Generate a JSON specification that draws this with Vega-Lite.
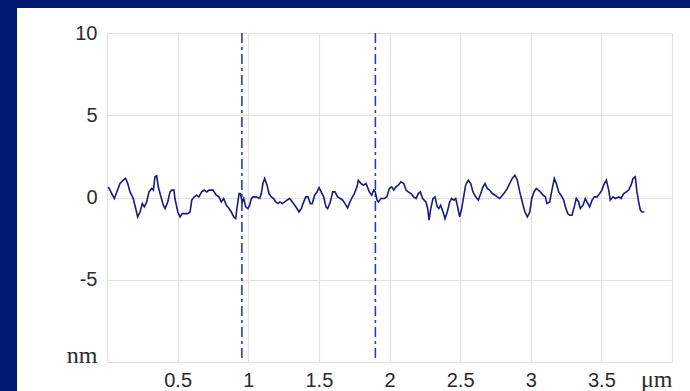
{
  "$schema": "https://vega.github.io/schema/vega-lite/v6.json",
  "width": 565,
  "height": 329,
  "autosize": {"type": "none"},
  "padding": {"left": 107, "top": 33, "right": 18, "bottom": 29},
  "background": "white",
  "config": {
    "view": {"stroke": null},
    "axis": {
      "domain": false,
      "ticks": false,
      "grid": true,
      "gridColor": "#e2e2e2",
      "gridWidth": 1.2,
      "labelFont": "Liberation Sans",
      "labelFontSize": 20,
      "labelColor": "#2b2b2b",
      "labelOverlap": false,
      "labelFlush": false,
      "title": null
    }
  },
  "datasets": {
    "profile": [
      {"x": 0.009, "y": 0.65}, {"x": 0.052, "y": -0.06}, {"x": 0.092, "y": 0.85}, {"x": 0.115, "y": 1.05},
      {"x": 0.132, "y": 1.16}, {"x": 0.147, "y": 0.85}, {"x": 0.163, "y": 0.34}, {"x": 0.186, "y": -0.06},
      {"x": 0.203, "y": -0.67}, {"x": 0.217, "y": -1.18}, {"x": 0.234, "y": -0.88}, {"x": 0.25, "y": -0.37},
      {"x": 0.264, "y": -0.57}, {"x": 0.281, "y": -0.27}, {"x": 0.297, "y": 0.34}, {"x": 0.316, "y": 0.55},
      {"x": 0.328, "y": 0.45}, {"x": 0.34, "y": 1.26}, {"x": 0.352, "y": 1.32}, {"x": 0.363, "y": 0.65},
      {"x": 0.382, "y": 0.04}, {"x": 0.399, "y": -0.47}, {"x": 0.411, "y": -0.67}, {"x": 0.43, "y": -0.27},
      {"x": 0.446, "y": 0.34}, {"x": 0.458, "y": 0.45}, {"x": 0.474, "y": 0.45}, {"x": 0.481, "y": -0.06},
      {"x": 0.501, "y": -0.88}, {"x": 0.517, "y": -1.18}, {"x": 0.533, "y": -0.98}, {"x": 0.571, "y": -0.98},
      {"x": 0.588, "y": -0.88}, {"x": 0.6, "y": -0.16}, {"x": 0.618, "y": 0.04}, {"x": 0.635, "y": 0.14},
      {"x": 0.651, "y": 0.04}, {"x": 0.67, "y": 0.34}, {"x": 0.689, "y": 0.45}, {"x": 0.706, "y": 0.34},
      {"x": 0.722, "y": 0.45}, {"x": 0.75, "y": 0.45},
      {"x": 0.774, "y": 0.14}, {"x": 0.793, "y": 0.04}, {"x": 0.809, "y": -0.27}, {"x": 0.826, "y": -0.06},
      {"x": 0.845, "y": -0.47}, {"x": 0.864, "y": -0.67}, {"x": 0.88, "y": -0.88}, {"x": 0.897, "y": -1.18},
      {"x": 0.911, "y": -1.28}, {"x": 0.92, "y": -0.67}, {"x": 0.935, "y": 0.24}, {"x": 0.944, "y": 0.24},
      {"x": 0.958, "y": -0.27}, {"x": 0.968, "y": -0.06}, {"x": 0.982, "y": -0.57}, {"x": 0.998, "y": -0.67},
      {"x": 1.01, "y": -0.47}, {"x": 1.022, "y": -0.06}, {"x": 1.034, "y": 0.04}, {"x": 1.057, "y": 0.04},
      {"x": 1.081, "y": -0.06}, {"x": 1.092, "y": 0.24}, {"x": 1.104, "y": 0.85}, {"x": 1.116, "y": 1.16},
      {"x": 1.133, "y": 0.75}, {"x": 1.147, "y": 0.24}, {"x": 1.163, "y": 0.04}, {"x": 1.18, "y": -0.06},
      {"x": 1.194, "y": -0.27}, {"x": 1.211, "y": -0.37}, {"x": 1.223, "y": -0.27}, {"x": 1.241, "y": -0.37},
      {"x": 1.258, "y": -0.27}, {"x": 1.274, "y": -0.16}, {"x": 1.293, "y": -0.06}, {"x": 1.312, "y": -0.27},
      {"x": 1.329, "y": -0.47}, {"x": 1.345, "y": -0.67}, {"x": 1.359, "y": -0.88}, {"x": 1.376, "y": -0.67},
      {"x": 1.388, "y": -0.37}, {"x": 1.407, "y": 0.04}, {"x": 1.423, "y": 0.04}, {"x": 1.439, "y": -0.37},
      {"x": 1.453, "y": -0.37}, {"x": 1.47, "y": 0.14}, {"x": 1.487, "y": 0.34}, {"x": 1.501, "y": 0.6},
      {"x": 1.534, "y": 0.04}, {"x": 1.55, "y": -0.57}, {"x": 1.562, "y": -0.67}, {"x": 1.581, "y": -0.27},
      {"x": 1.598, "y": 0.34}, {"x": 1.614, "y": 0.34}, {"x": 1.633, "y": 0.04}, {"x": 1.652, "y": -0.06},
      {"x": 1.669, "y": -0.16}, {"x": 1.685, "y": -0.37}, {"x": 1.704, "y": -0.63}, {"x": 1.715, "y": -0.37},
      {"x": 1.732, "y": -0.06}, {"x": 1.751, "y": 0.24}, {"x": 1.77, "y": 0.65}, {"x": 1.779, "y": 1.05},
      {"x": 1.798, "y": 0.85}, {"x": 1.817, "y": 0.75}, {"x": 1.834, "y": 0.85}, {"x": 1.857, "y": 0.34},
      {"x": 1.874, "y": 0.14}, {"x": 1.888, "y": 0.45}, {"x": 1.899, "y": 0.34}, {"x": 1.912, "y": -0.16},
      {"x": 1.921, "y": -0.27}, {"x": 1.94, "y": -0.06}, {"x": 1.963, "y": -0.06}, {"x": 1.982, "y": 0.04},
      {"x": 1.999, "y": 0.55}, {"x": 2.016, "y": 0.65}, {"x": 2.03, "y": 0.45}, {"x": 2.046, "y": 0.65},
      {"x": 2.062, "y": 0.75}, {"x": 2.081, "y": 0.95}, {"x": 2.101, "y": 0.85}, {"x": 2.117, "y": 0.45},
      {"x": 2.133, "y": 0.34}, {"x": 2.152, "y": 0.24}, {"x": 2.171, "y": 0.04}, {"x": 2.188, "y": -0.06},
      {"x": 2.204, "y": 0.24}, {"x": 2.218, "y": 0.34}, {"x": 2.235, "y": -0.06}, {"x": 2.258, "y": -0.27},
      {"x": 2.27, "y": -0.67}, {"x": 2.28, "y": -1.38},
      {"x": 2.292, "y": -0.67}, {"x": 2.308, "y": -0.06}, {"x": 2.322, "y": 0.04}, {"x": 2.338, "y": -0.57},
      {"x": 2.35, "y": -0.67}, {"x": 2.362, "y": -0.47}, {"x": 2.379, "y": -0.88}, {"x": 2.393, "y": -1.28},
      {"x": 2.409, "y": -0.88}, {"x": 2.426, "y": -0.27}, {"x": 2.44, "y": -0.06}, {"x": 2.457, "y": -0.16},
      {"x": 2.469, "y": -0.06}, {"x": 2.48, "y": -0.47}, {"x": 2.497, "y": -1.18}, {"x": 2.511, "y": -0.67},
      {"x": 2.527, "y": 0.14}, {"x": 2.539, "y": 0.75}, {"x": 2.558, "y": 1.05}, {"x": 2.575, "y": 0.85},
      {"x": 2.591, "y": 0.34}, {"x": 2.61, "y": 0.04}, {"x": 2.629, "y": -0.16}, {"x": 2.646, "y": 0.24},
      {"x": 2.662, "y": 0.65}, {"x": 2.676, "y": 0.85}, {"x": 2.692, "y": 0.55}, {"x": 2.709, "y": 0.45},
      {"x": 2.728, "y": 0.24}, {"x": 2.747, "y": 0.14}, {"x": 2.763, "y": 0.04}, {"x": 2.78, "y": -0.06},
      {"x": 2.799, "y": 0.14}, {"x": 2.818, "y": 0.34}, {"x": 2.834, "y": 0.55}, {"x": 2.851, "y": 0.85},
      {"x": 2.869, "y": 1.16}, {"x": 2.888, "y": 1.36}, {"x": 2.905, "y": 1.05}, {"x": 2.922, "y": 0.34},
      {"x": 2.94, "y": -0.27}, {"x": 2.959, "y": -0.88}, {"x": 2.976, "y": -1.18}, {"x": 2.993, "y": -0.88},
      {"x": 3.007, "y": -0.06}, {"x": 3.023, "y": 0.34}, {"x": 3.039, "y": 0.55},
      {"x": 3.068, "y": 0.34}, {"x": 3.087, "y": 0.14}, {"x": 3.103, "y": 0.04}, {"x": 3.115, "y": -0.37},
      {"x": 3.134, "y": -0.27}, {"x": 3.15, "y": 0.45}, {"x": 3.167, "y": 1.16}, {"x": 3.181, "y": 0.85},
      {"x": 3.198, "y": 0.34}, {"x": 3.214, "y": 0.14}, {"x": 3.233, "y": -0.16}, {"x": 3.245, "y": -0.57},
      {"x": 3.262, "y": -0.98}, {"x": 3.276, "y": -1.08}, {"x": 3.292, "y": -1.08}, {"x": 3.308, "y": -0.57},
      {"x": 3.322, "y": -0.06}, {"x": 3.339, "y": -0.27}, {"x": 3.351, "y": -0.67}, {"x": 3.37, "y": -0.47},
      {"x": 3.386, "y": -0.06}, {"x": 3.398, "y": -0.27}, {"x": 3.417, "y": -0.57}, {"x": 3.434, "y": -0.16},
      {"x": 3.45, "y": 0.04}, {"x": 3.469, "y": 0.04}, {"x": 3.488, "y": 0.24}, {"x": 3.504, "y": 0.45},
      {"x": 3.516, "y": 0.75}, {"x": 3.535, "y": 1.05}, {"x": 3.552, "y": 0.45}, {"x": 3.563, "y": -0.16},
      {"x": 3.582, "y": 0.04}, {"x": 3.599, "y": -0.06}, {"x": 3.623, "y": 0.04}, {"x": 3.639, "y": -0.06},
      {"x": 3.658, "y": 0.24}, {"x": 3.676, "y": 0.34}, {"x": 3.693, "y": 0.45}, {"x": 3.71, "y": 0.75},
      {"x": 3.724, "y": 1.16}, {"x": 3.74, "y": 1.26}, {"x": 3.752, "y": 0.34}, {"x": 3.764, "y": -0.27},
      {"x": 3.776, "y": -0.77}, {"x": 3.788, "y": -0.88}, {"x": 3.804, "y": -0.88}
    ],
    "cursors": [
      {"pos": 0.955},
      {"pos": 1.9}
    ]
  },
  "layer": [
    {
      "data": {"values": [{}]},
      "mark": {"type": "rect", "color": "#00186f", "clip": false},
      "encoding": {
        "x": {"datum": -0.9, "type": "quantitative"},
        "x2": {"datum": -0.637},
        "y": {"datum": -13, "type": "quantitative"},
        "y2": {"datum": 13}
      }
    },
    {
      "data": {"values": [{}]},
      "mark": {"type": "rect", "color": "#00186f", "clip": false},
      "encoding": {
        "x": {"datum": -0.9, "type": "quantitative"},
        "x2": {"datum": 4.5},
        "y": {"datum": 11.52, "type": "quantitative"},
        "y2": {"datum": 13}
      }
    },
    {
      "data": {"name": "cursors"},
      "mark": {"type": "rule", "color": "#2b3bc0", "strokeWidth": 1.6, "strokeDash": [10, 4, 3, 4]},
      "encoding": {
        "x": {"field": "pos", "type": "quantitative"}
      }
    },
    {
      "data": {"name": "profile"},
      "mark": {"type": "line", "color": "#1a1a80", "strokeWidth": 1.6, "interpolate": "linear"},
      "encoding": {
        "x": {"field": "x", "type": "quantitative"},
        "y": {"field": "y", "type": "quantitative"}
      }
    }
  ],
  "resolve": {"scale": {"x": "shared", "y": "shared"}},
  "encoding": {
    "x": {
      "type": "quantitative",
      "title": null,
      "scale": {"domain": [0, 4], "nice": false, "zero": false},
      "axis": {
        "values": [0, 0.5, 1, 1.5, 2, 2.5, 3, 3.5, 4],
        "format": "~r",
        "labelBaseline": "alphabetic",
        "labelPadding": 24,
        "labelExpr": "datum.value == 0 ? '' : datum.value == 4 ? 'μm' : datum.label",
        "labelFont": {"condition": {"test": "datum.value == 4", "value": "Liberation Serif"}, "value": "Liberation Sans"},
        "labelFontSize": {"condition": {"test": "datum.value == 4", "value": 24}, "value": 20},
        "labelAlign": {"condition": {"test": "datum.value == 4", "value": "right"}, "value": "center"}
      }
    },
    "y": {
      "type": "quantitative",
      "title": null,
      "scale": {"domain": [-10, 10], "nice": false, "zero": false},
      "axis": {
        "values": [-10, -5, 0, 5, 10],
        "format": "~r",
        "labelPadding": 10,
        "labelExpr": "datum.value == -10 ? 'nm' : replace(datum.label, '−', '-')",
        "labelFont": {"condition": {"test": "datum.value == -10", "value": "Liberation Serif"}, "value": "Liberation Sans"},
        "labelFontSize": {"condition": {"test": "datum.value == -10", "value": 24}, "value": 20},
        "labelBaseline": {"condition": {"test": "datum.value == -10", "value": "alphabetic"}, "value": "middle"}
      }
    }
  }
}
